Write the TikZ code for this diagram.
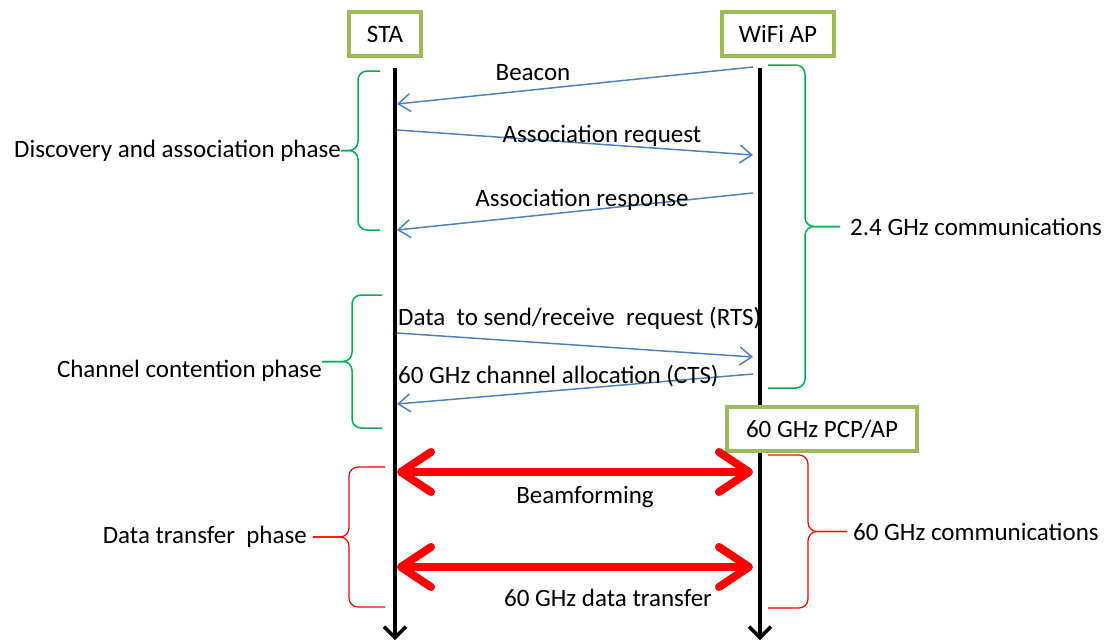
\documentclass[tikz,border=0pt]{standalone}
\usepackage{fontspec}
\setmainfont{Carlito}
\usetikzlibrary{arrows.meta,positioning}
\definecolor{boxgreen}{HTML}{9BBB59}
\definecolor{bracegreen}{HTML}{00B050}
\definecolor{msgblue}{HTML}{4F81BD}
% #1 style, #2 tip name, #3 end x, #4 body x, #5 tip x, #6 top y, #7 bottom y
\newcommand{\phasebrace}[7]{%
  \coordinate (#2) at (#5,{(#6+#7)/2});
  \draw[#1, rounded corners=9pt] (#3,#6) -- (#4,#6) -- (#4,{(#6+#7)/2}) -- (#2);
  \draw[#1, rounded corners=9pt] (#2) -- (#4,{(#6+#7)/2}) -- (#4,#7) -- (#3,#7);
}

\begin{document}
\begin{tikzpicture}[x=1pt,y=-1pt,
    every node/.style={font=\fontsize{25}{30}\selectfont},
    entity/.style={draw=boxgreen, line width=4.5pt, fill=white, minimum height=44pt, inner sep=0pt},
    lifeline/.style={line width=3.5pt, -{Straight Barb[length=11pt,width=22pt]}},
    msg/.style={msgblue, line width=1.5pt, -{Straight Barb[length=12pt,width=18pt]}},
    mmwave/.style={red, line width=8pt, {Straight Barb[round,length=30pt,width=40pt]}-{Straight Barb[round,length=30pt,width=40pt]}},
    phase/.style={inner sep=0pt}]

    \useasboundingbox (0,0) rectangle (1112,641);

    % lifelines
    \coordinate (staT) at (395,68);
    \coordinate (staB) at (395,640);
    \coordinate (apT) at (760,68);
    \coordinate (apB) at (760,640);
    \draw[lifeline] (staT) -- (staB);
    \draw[lifeline] (apT) -- (apB);

    \node[entity, minimum width=72pt] (sta) at (385,34) {STA};
    \node[entity, minimum width=112pt] (ap) at (778,34) {WiFi AP};
    \node[entity, minimum width=190pt] (pcp) at (822,429) {60 GHz PCP/AP};

    % message ends on both lifelines
    \foreach \n/\ys/\ya in {beacon/104/67, areq/130/155, aresp/230/193, rts/333/357,
                            cts/404/374, bf/472/472, dt/567/567}
        {\coordinate (\n-sta) at (397,\ys); \coordinate (\n-ap) at (753,\ya);}

    \draw[msg] (beacon-ap) -- (beacon-sta);
    \draw[msg] (areq-sta) -- (areq-ap);
    \draw[msg] (aresp-ap) -- (aresp-sta);
    \draw[msg] (rts-sta) -- (rts-ap);
    \draw[msg] (cts-ap) -- (cts-sta);
    \draw[mmwave] (bf-sta) -- (bf-ap);
    \draw[mmwave] (dt-sta) -- (dt-ap);

    \node (beaconL) at (533,73) {Beacon};
    \node (areqL) at (602,136) {Association request};
    \node (arespL) at (582,200) {Association response};
    \node[anchor=west, inner sep=0pt] (rtsL) at (398,318) {Data~ to send/receive~ request (RTS)};
    \node[anchor=west, inner sep=0pt] (ctsL) at (398,376) {60 GHz channel allocation (CTS)};
    \node (bfL) at (585,497) {Beamforming};
    \node (dtL) at (608,598) {60 GHz data transfer};

    % phases
    \phasebrace{bracegreen, line width=1.5pt}{discTip}{380}{358}{341}{71}{230}
    \phasebrace{bracegreen, line width=1.5pt}{ccTip}{382}{352}{322}{295}{428}
    \phasebrace{red, line width=1.2pt}{dtTip}{385}{349}{313}{467}{607}
    \phasebrace{bracegreen, line width=1.5pt}{lowTip}{768}{805}{840}{65}{388}
    \phasebrace{red, line width=1.2pt}{mmTip}{768}{808}{847}{455}{608}

    \node[phase, left=0pt of discTip] (discL) {Discovery and association phase};
    \node[phase, left=0pt of ccTip, yshift=-9pt] (ccL) {Channel contention phase};
    \node[phase, left=6pt of dtTip] (dtPhaseL) {Data transfer~ phase};
    \node[phase, right=10pt of lowTip] (lowL) {2.4 GHz communications};
    \node[phase, right=6pt of mmTip] (mmL) {60 GHz communications};
\end{tikzpicture}
\end{document}
